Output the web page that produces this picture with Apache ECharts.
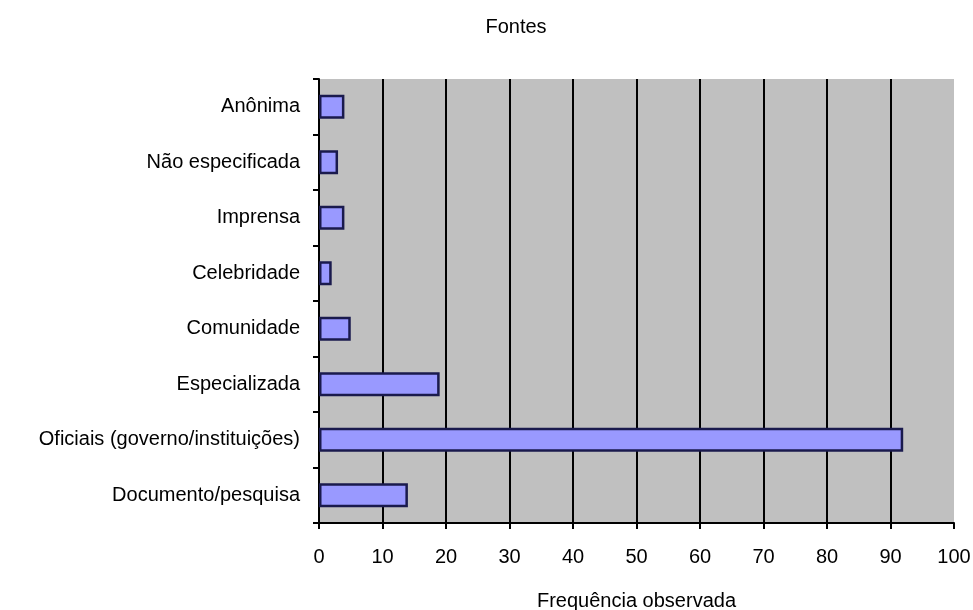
<!DOCTYPE html>
<html>
<head>
<meta charset="utf-8">
<script src="https://cdn.jsdelivr.net/npm/echarts@6/dist/echarts.min.js"></script>
<style>
    html, body { margin: 0; padding: 0; background: #fff; }
    #chart { width: 973px; height: 610px; }
</style>
</head>
<body>
<div id="chart"></div>
<script>
// categories listed top to bottom
const categories = ['Anônima', 'Não especificada', 'Imprensa', 'Celebridade', 'Comunidade', 'Especializada', 'Oficiais (governo/instituições)', 'Documento/pesquisa']
const values = [4, 3, 4, 2, 5, 19, 92, 14]
const xTicks = [0, 10, 20, 30, 40, 50, 60, 70, 80, 90, 100]

const font = '"Liberation Sans", Arial, sans-serif'

const myChart = echarts.init(document.getElementById('chart'))

const option = {
    backgroundColor: '#ffffff',
    animation: false,
    title: {
        text: 'Fontes',
        left: 511,
        top: 12,
        textAlign: 'center',
        textStyle: { fontFamily: font, fontSize: 20, fontWeight: 'normal', color: '#000' }
    },
    grid: {
        left: 319,
        right: 19,
        top: 79,
        bottom: 87,
        outerBoundsMode: 'none',
        containLabel: false,
        show: true,
        backgroundColor: '#c0c0c0',
        borderWidth: 0
    },
    xAxis: {
        type: 'value',
        min: xTicks[0],
        max: xTicks[xTicks.length - 1],
        interval: 10,
        name: 'Frequência observada',
        nameLocation: 'middle',
        nameGap: 68,
        nameTextStyle: { fontFamily: font, fontSize: 20, color: '#000' },
        axisLine: { show: true, lineStyle: { color: '#000', width: 2 } },
        axisTick: { show: true, length: 6, lineStyle: { color: '#000', width: 2 } },
        axisLabel: { fontFamily: font, fontSize: 20, color: '#000', margin: 24 },
        splitLine: { show: true, showMinLine: false, showMaxLine: false, lineStyle: { color: '#000', width: 2 } }
    },
    yAxis: {
        type: 'category',
        inverse: true,
        data: categories,
        axisLine: { show: true, lineStyle: { color: '#000', width: 2 } },
        axisTick: { show: true, length: 6, lineStyle: { color: '#000', width: 2 } },
        axisLabel: { fontFamily: font, fontSize: 20, color: '#000', margin: 19 },
        splitLine: { show: false }
    },
    series: [
        {
            type: 'bar',
            data: values,
            barWidth: 24,
            itemStyle: { color: '#9999ff', borderColor: '#1a1a4d', borderWidth: 2.5 }
        }
    ]
}

myChart.setOption(option)
</script>
</body>
</html>
